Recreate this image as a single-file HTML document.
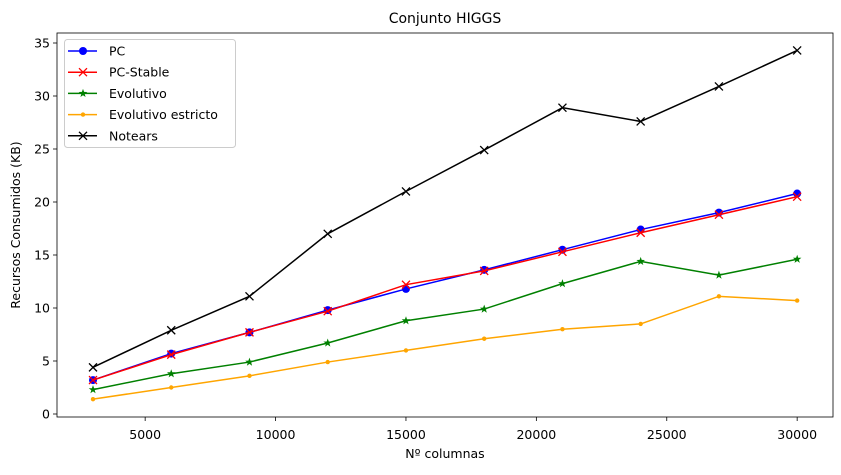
<!DOCTYPE html>
<html><head><meta charset="utf-8"><style>
body{margin:0;background:#fff;font-family:"Liberation Sans","DejaVu Sans",sans-serif;}
svg text{font-family:"DejaVu Sans","Liberation Sans",sans-serif;}
</style></head><body>
<svg id="chart" width="841" height="470" xmlns="http://www.w3.org/2000/svg"></svg>
<script>
const xs=[3000,6000,9000,12000,15000,18000,21000,24000,27000,30000];
const pcVals=[3.2,5.7,7.7,9.8,11.8,13.6,15.5,17.4,19.0,20.8];
const pcStableVals=[3.2,5.6,7.7,9.7,12.2,13.5,15.3,17.1,18.8,20.5];
const evoVals=[2.3,3.8,4.9,6.7,8.8,9.9,12.3,14.4,13.1,14.6];
const estrictoVals=[1.4,2.5,3.6,4.9,6.0,7.1,8.0,8.5,11.1,10.7];
const notearsVals=[4.4,7.9,11.1,17.0,21.0,24.9,28.9,27.6,30.9,34.3];
const xTicks=[5000,10000,15000,20000,25000,30000];
const yTicks=[0,5,10,15,20,25,30,35];
const NS="http://www.w3.org/2000/svg";
const svg=document.getElementById('chart');
const L=57,T=33,R=833,B=417;
const X=v=>93+(v-3000)*0.02608;
const Y=v=>414-v*10.6;
function mk(tag,attrs,parent){const e=document.createElementNS(NS,tag);for(const k in attrs)e.setAttribute(k,attrs[k]);(parent||svg).appendChild(e);return e;}
let t=mk('text',{x:445,y:23,'font-size':14,'text-anchor':'middle',fill:'#000'});t.textContent='Conjunto HIGGS';


const frame=mk('rect',{x:L,y:T,width:R-L,height:B-T,fill:'none',stroke:'#000','stroke-width':0.8});


xTicks.forEach(v=>{mk('line',{x1:X(v),x2:X(v),y1:B,y2:B+4,stroke:'#000','stroke-width':0.8});
 const tx=mk('text',{x:X(v),y:B+22,'font-size':12.5,'text-anchor':'middle'});tx.textContent=v;
 
 });
yTicks.forEach(v=>{mk('line',{x1:L-4,x2:L,y1:Y(v),y2:Y(v),stroke:'#000','stroke-width':0.8});
 const ty=mk('text',{x:L-7,y:Y(v)+4.5,'font-size':12.5,'text-anchor':'end'});ty.textContent=v;
 
 });
t=mk('text',{x:445,y:458,'font-size':12.5,'text-anchor':'middle'});t.textContent='Nº columnas';


t=mk('text',{x:20,y:225,'font-size':12.5,'text-anchor':'middle',transform:'rotate(-90 20 225)'});t.textContent='Recursos Consumidos (KB)';


function marker(g,type,x,y,c){
 if(type==='o')mk('circle',{cx:x,cy:y,r:4,fill:c},g);
 else if(type==='x'){mk('path',{d:`M${x-4} ${y-4}L${x+4} ${y+4}M${x-4} ${y+4}L${x+4} ${y-4}`,stroke:c,'stroke-width':1.3},g);}
 else if(type==='*'){let p=[];for(let i=0;i<10;i++){const r=i%2?1.8:4.5,a=-Math.PI/2+i*Math.PI/5;p.push((x+r*Math.cos(a)).toFixed(1)+','+(y+r*Math.sin(a)).toFixed(1));}mk('polygon',{points:p.join(' '),fill:c},g);}
 else mk('circle',{cx:x,cy:y,r:2.2,fill:c},g);
}
const series=[
 {name:'PC',vals:pcVals,c:'#0000ff',m:'o',id:'series-pc'},
 {name:'PC-Stable',vals:pcStableVals,c:'#ff0000',m:'x',id:'series-pc-stable'},
 {name:'Evolutivo',vals:evoVals,c:'#008000',m:'*',id:'series-evolutivo'},
 {name:'Evolutivo estricto',vals:estrictoVals,c:'#ffa500',m:'.',id:'series-evolutivo-estricto'},
 {name:'Notears',vals:notearsVals,c:'#000000',m:'x',id:'series-notears'}];
series.forEach(s=>{
 const g=mk('g',{});
 
 
 mk('polyline',{points:s.vals.map((v,i)=>X(xs[i])+','+Y(v)).join(' '),fill:'none',stroke:s.c,'stroke-width':1.5},g);
 s.vals.forEach((v,i)=>marker(g,s.m,X(xs[i]),Y(v),s.c));
});
const lg=mk('g',{});


mk('rect',{x:64.5,y:39.5,width:171,height:108,rx:3,fill:'#fff',stroke:'#ccc'},lg);
series.forEach((s,i)=>{
 const y=51+i*21.2;
 const e=mk('g',{},lg);
 
 
 mk('line',{x1:68,x2:97,y1:y,y2:y,stroke:s.c,'stroke-width':1.5},e);
 marker(e,s.m,83,y,s.c);
 const tt=mk('text',{x:109,y:y+4.5,'font-size':12.5},e);tt.textContent=s.name;
});
</script>
</body></html>
